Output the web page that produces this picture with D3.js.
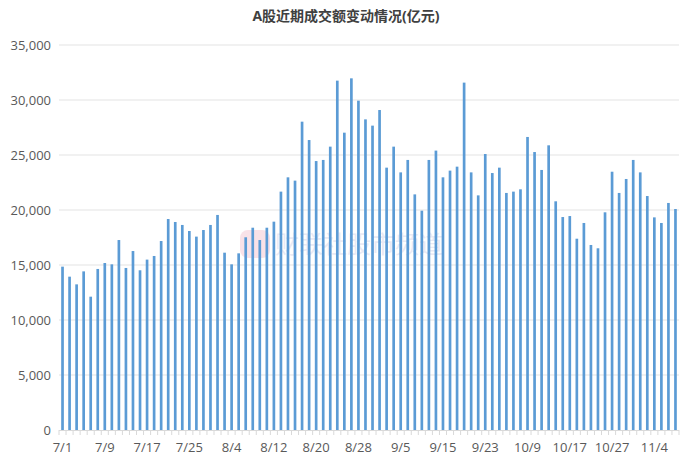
<!DOCTYPE html>
<html><head><meta charset="utf-8">
<script src="https://cdn.jsdelivr.net/npm/d3@7"></script>
<style>body{margin:0;background:#fff;}svg{display:block;font-family:"Open Sans","Noto Sans CJK SC",sans-serif;}</style>
</head><body><svg id="c" width="692" height="462"></svg>
<script>
const dates = ["7/1","7/2","7/3","7/4","7/7","7/8","7/9","7/10","7/11","7/14","7/15","7/16","7/17","7/18","7/21","7/22","7/23","7/24","7/25","7/28","7/29","7/30","7/31","8/1","8/4","8/5","8/6","8/7","8/8","8/11","8/12","8/13","8/14","8/15","8/18","8/19","8/20","8/21","8/22","8/25","8/26","8/27","8/28","8/29","9/1","9/2","9/3","9/4","9/5","9/8","9/9","9/10","9/11","9/12","9/15","9/16","9/17","9/18","9/19","9/22","9/23","9/24","9/25","9/26","9/29","9/30","10/9","10/10","10/13","10/14","10/15","10/16","10/17","10/20","10/21","10/22","10/23","10/24","10/27","10/28","10/29","10/30","10/31","11/3","11/4","11/5","11/6","11/7"];
const volumes = [14850,13940,13240,14420,12120,14640,15180,15060,17270,14730,16270,14520,15490,15820,17180,19180,18910,18640,18090,17580,18180,18640,19550,16120,15060,16060,17520,18390,17270,18390,18940,21670,22970,22670,28030,26360,24450,24550,25760,31760,27030,31970,29940,28240,27670,29090,23850,25760,23420,24550,21420,19940,24550,25400,22970,23580,23940,31580,23420,21330,25090,23360,23850,21550,21670,21880,26640,25270,23640,25880,20790,19360,19450,17390,18820,16820,16520,19790,23480,21550,22820,24550,23420,21270,19330,18820,20640,20090];
const yTicks = [0,5000,10000,15000,20000,25000,30000,35000];
const title = "A股近期成交额变动情况(亿元)";

const svg = d3.select("#c");
const m = {l:59, r:13, t:45, b:32};
const W = 692, H = 462;
const x = d3.scaleBand().domain(dates).range([m.l, W-m.r]).paddingInner(0.62).paddingOuter(0.31);
const y = d3.scaleLinear().domain([0,35000]).range([H-m.b, m.t]);

svg.append("text").attr("x",346).attr("y",21).attr("text-anchor","middle")
  .attr("font-size",14).attr("font-weight","bold").attr("fill","#404040").text(title);

svg.append("g").selectAll("line").data(yTicks.slice(1)).join("line")
  .attr("x1",m.l).attr("x2",W-m.r).attr("y1",d=>y(d)).attr("y2",d=>y(d))
  .attr("stroke","#e3e3e3");
svg.append("g").selectAll("text").data(yTicks).join("text")
  .attr("x",51).attr("y",d=>y(d)+4.5).attr("text-anchor","end")
  .attr("font-size",13).attr("fill","#595959").text(d=>d3.format(",")(d));

// watermark
const wm = svg.append("g").attr("opacity",0.18);
wm.append("rect").attr("x",240).attr("y",230).attr("width",30).attr("height",28).attr("rx",8).attr("fill","#e0607e");
wm.append("text").attr("x",275).attr("y",253).attr("font-size",24).attr("fill","#8a8fc8").text("财联社股市频道");

svg.append("g").selectAll("rect").data(volumes).join("rect")
  .attr("x",(d,i)=>x(dates[i])).attr("width",x.bandwidth())
  .attr("y",d=>y(d)).attr("height",d=>y(0)-y(d)).attr("fill","#5b9bd5");

const step = x.step();
const ax = svg.append("g");
ax.append("line").attr("x1",m.l).attr("x2",W-m.r).attr("y1",y(0)+0.5).attr("y2",y(0)+0.5).attr("stroke","#d9d9d9");
ax.selectAll("line.t").data(d3.range(dates.length+1)).join("line").attr("class","t")
  .attr("x1",i=>m.l+i*step*(W-m.l-m.r)/(step*dates.length)).attr("x2",i=>m.l+i*(W-m.l-m.r)/dates.length)
  .attr("y1",y(0)).attr("y2",y(0)+5).attr("stroke","#d9d9d9");
ax.selectAll("text").data(dates.filter((d,i)=>i%6===0)).join("text")
  .attr("x",d=>x(d)+x.bandwidth()/2).attr("y",H-10).attr("text-anchor","middle")
  .attr("font-size",13).attr("fill","#595959").text(d=>d);
</script></body></html>
